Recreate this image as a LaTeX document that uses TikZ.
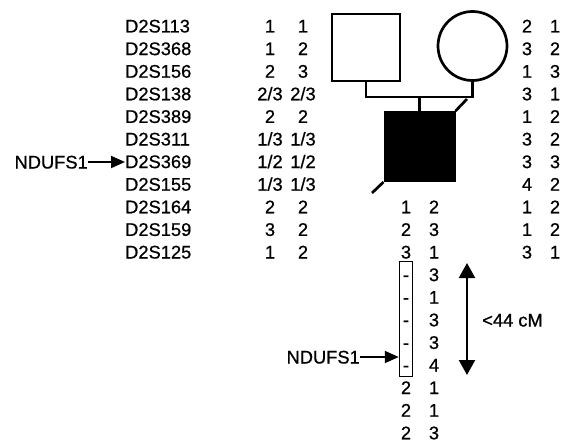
\documentclass[tikz,border=0pt]{standalone}
\usepackage{fontspec}
\setmainfont{Liberation Sans}[FakeBold=0.7]
\usetikzlibrary{arrows.meta}
\newcommand\mkrow[6]{%
  \node[txt,anchor=west] (m#1) at (125,{26+#1*22.6}) {#2};
  \node[txt] (fa#1) at (270,{26+#1*22.6}) {#3};
  \node[txt] (fb#1) at (303,{26+#1*22.6}) {#4};
  \node[txt] (ma#1) at (527,{26+#1*22.6}) {#5};
  \node[txt] (mb#1) at (555,{26+#1*22.6}) {#6};
}
\newcommand\kidrow[3]{%
  \node[txt] (ca#1) at (406,{26+#1*22.6}) {#2};
  \node[txt] (cb#1) at (434,{26+#1*22.6}) {#3};
}
\begin{document}
\begin{tikzpicture}[x=1pt,y=-1pt,
  txt/.style={font=\fontsize{18.3}{20}\selectfont, inner sep=0pt, text height=13pt, text depth=0pt},
  pedline/.style={line width=2.7pt},
  ptr/.style={line width=2pt, -{Triangle[width=12pt,length=14pt]}},
  span/.style={line width=2.2pt, {Triangle[width=16pt,length=15pt]}-{Triangle[width=16pt,length=15pt]}}]
\useasboundingbox (0,0) rectangle (562,444);
% marker table
\mkrow{0}{D2S113}{1}{1}{2}{1}
\mkrow{1}{D2S368}{1}{2}{3}{2}
\mkrow{2}{D2S156}{2}{3}{1}{3}
\mkrow{3}{D2S138}{2/3}{2/3}{3}{1}
\mkrow{4}{D2S389}{2}{2}{1}{2}
\mkrow{5}{D2S311}{1/3}{1/3}{3}{2}
\mkrow{6}{D2S369}{1/2}{1/2}{3}{3}
\mkrow{7}{D2S155}{1/3}{1/3}{4}{2}
\mkrow{8}{D2S164}{2}{2}{1}{2}
\mkrow{9}{D2S159}{3}{2}{1}{2}
\mkrow{10}{D2S125}{1}{2}{3}{1}
% child haplotype
\kidrow{8}{1}{2}
\kidrow{9}{2}{3}
\kidrow{10}{3}{1}
\kidrow{11}{-}{3}
\kidrow{12}{-}{1}
\kidrow{13}{-}{3}
\kidrow{14}{-}{3}
\kidrow{15}{-}{4}
\kidrow{16}{2}{1}
\kidrow{17}{2}{1}
\kidrow{18}{2}{3}
% pedigree symbols
\node[draw, pedline, minimum width=68pt, minimum height=67pt, inner sep=0pt] (father) at (366,47.5) {};
\node[draw, circle, pedline, minimum size=69pt, inner sep=0pt] (mother) at (472.5,46) {};
\node[draw, fill=black, line width=2pt, minimum width=70pt, minimum height=69pt, inner sep=0pt] (child) at (419.5,146.5) {};
\coordinate (mar) at (419.5,97);
\draw[pedline] (father.south) |- (mar) -| (mother.south);
\draw[pedline] (mar) -- (child.north);
\coordinate (diagA) at (467,99);
\coordinate (diagB) at (372,193);
\draw[pedline] (child.north east) -- (diagA);
\draw[pedline] (child.south west) -- (diagB);
% haplotype box
\node[draw, line width=1.5pt, minimum width=13pt, minimum height=115pt, inner sep=0pt] (hbox) at (406,319) {};
% span arrow
\coordinate (spanT) at (467,263);
\coordinate (spanB) at (467,375);
\draw[span] (spanT) -- (spanB);
\node[txt] (cm) at (512.5,320) {<44 cM};
% gene pointers
\node[txt,anchor=east] (nd1) at (88,162) {NDUFS1};
\draw[ptr] (nd1.east) -- (nd1.east -| m6.west);
\node[txt,anchor=east] (nd2) at (360,357) {NDUFS1};
\draw[ptr] (nd2.east) -- (nd2.east -| hbox.west);
\end{tikzpicture}
\end{document}
